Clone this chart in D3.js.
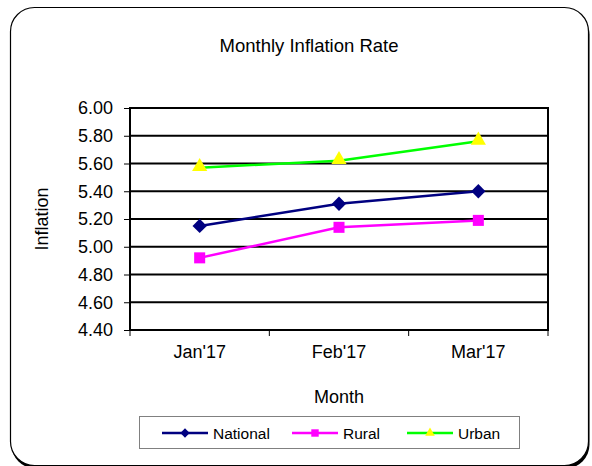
<!DOCTYPE html>
<html>
<head>
<meta charset="utf-8">
<script src="https://cdn.jsdelivr.net/npm/d3@7"></script>
<style>
  body { margin: 0; background: #fff; }
  svg { display: block; font-family: "Liberation Sans", Arial, sans-serif; }
</style>
</head>
<body>
<div id="chart"></div>
<script>
// data
var months = ["Jan'17", "Feb'17", "Mar'17"];
var national = [5.15, 5.31, 5.40];
var rural = [4.92, 5.14, 5.19];
var urban = [5.57, 5.62, 5.76];
var yTicks = [4.40, 4.60, 4.80, 5.00, 5.20, 5.40, 5.60, 5.80, 6.00];
var seriesNames = ["National", "Rural", "Urban"];

var W = 592, H = 466;
var plot = { left: 130, right: 548, top: 108, bottom: 330 };

var svg = d3.select("#chart").append("svg")
    .attr("width", W)
    .attr("height", H);

// chart area frame with shadow (mostly cut off by the page edge)
svg.append("rect")
    .attr("x", 11.5).attr("y", 10.5)
    .attr("width", 578).attr("height", 458)
    .attr("rx", 24).attr("ry", 24)
    .style("fill", "#000");
svg.append("rect")
    .attr("x", 10.5).attr("y", 7.5)
    .attr("width", 578).attr("height", 458)
    .attr("rx", 24).attr("ry", 24)
    .style("fill", "#fff")
    .style("stroke", "#000")
    .style("stroke-width", 1.2);

// scales
var x = d3.scaleBand().domain(months).range([plot.left, plot.right]).padding(0);
var y = d3.scaleLinear().domain([4.4, 6.0]).range([plot.bottom, plot.top]);
var cx = function (m) { return x(m) + x.bandwidth() / 2; };

// title
svg.append("text")
    .attr("x", 309).attr("y", 52)
    .attr("text-anchor", "middle")
    .style("font-size", "18.5px")
    .text("Monthly Inflation Rate");

// gridlines
svg.append("g").selectAll("line")
    .data(yTicks)
    .enter().append("line")
    .attr("x1", plot.left).attr("x2", plot.right)
    .attr("y1", function (d) { return y(d); })
    .attr("y2", function (d) { return y(d); })
    .style("stroke", "#000")
    .style("stroke-width", 2);

// plot border
svg.append("rect")
    .attr("x", plot.left).attr("y", plot.top)
    .attr("width", plot.right - plot.left)
    .attr("height", plot.bottom - plot.top)
    .style("fill", "none")
    .style("stroke", "#000")
    .style("stroke-width", 2);

// y axis
var yAxis = d3.axisLeft(y)
    .tickValues(yTicks)
    .tickFormat(d3.format(".2f"))
    .tickSize(6)
    .tickPadding(11);
var gy = svg.append("g")
    .attr("transform", "translate(" + plot.left + ",0)")
    .call(yAxis);
gy.select(".domain").remove();
gy.selectAll("line").style("stroke", "#000").style("stroke-width", 1);
gy.selectAll("text")
    .style("font-size", "18px")
    .style("font-family", "'Liberation Sans', Arial, sans-serif")
    .style("fill", "#000");

// x axis: ticks at band boundaries, labels at centers
var bounds = months.map(function (m) { return x(m); }).concat([plot.right]);
svg.append("g").selectAll("line")
    .data(bounds)
    .enter().append("line")
    .attr("x1", function (d) { return d; }).attr("x2", function (d) { return d; })
    .attr("y1", plot.bottom).attr("y2", plot.bottom + 6)
    .style("stroke", "#000").style("stroke-width", 1);
svg.append("g").selectAll("text")
    .data(months)
    .enter().append("text")
    .attr("x", function (d) { return cx(d); })
    .attr("y", 358)
    .attr("text-anchor", "middle")
    .style("font-size", "18px")
    .text(function (d) { return d; });

// axis titles
svg.append("text")
    .attr("x", cx(months[1])).attr("y", 403)
    .attr("text-anchor", "middle")
    .style("font-size", "18px")
    .text("Month");
svg.append("text")
    .attr("transform", "translate(48," + ((plot.top + plot.bottom) / 2) + ") rotate(-90)")
    .attr("text-anchor", "middle")
    .style("font-size", "18px")
    .text("Inflation");

// series
var series = [
    { name: seriesNames[0], values: national, line: "#000080", fill: "#000080", shape: d3.symbolDiamond2, size: 130, lsize: 55 },
    { name: seriesNames[1], values: rural, line: "#FF00FF", fill: "#FF00FF", shape: d3.symbolSquare2, size: 155, lsize: 70 },
    { name: seriesNames[2], values: urban, line: "#00FF00", fill: "#FFFF00", shape: d3.symbolTriangle2, size: 165, lsize: 65 }
];

var line = d3.line()
    .x(function (d, i) { return cx(months[i]); })
    .y(function (d) { return y(d); });

series.forEach(function (s) {
    svg.append("path")
        .datum(s.values)
        .attr("d", line)
        .style("fill", "none")
        .style("stroke", s.line)
        .style("stroke-width", 2.5);
});

series.forEach(function (s) {
    svg.append("g").selectAll("path")
        .data(s.values)
        .enter().append("path")
        .attr("d", d3.symbol().type(s.shape).size(s.size))
        .attr("transform", function (d, i) {
            var dy = s.shape === d3.symbolTriangle2 ? -1 : 0;
            return "translate(" + cx(months[i]) + "," + (y(d) + dy) + ")";
        })
        .style("fill", s.fill)
        .style("stroke", "none");
});

// legend
var legend = svg.append("g");
legend.append("rect")
    .attr("x", 139.5).attr("y", 416.5)
    .attr("width", 380).attr("height", 32)
    .style("fill", "#fff")
    .style("stroke", "#808080")
    .style("stroke-width", 1);

var legendX = [162, 292, 407];
var ly = 433;
series.forEach(function (s, i) {
    var g = legend.append("g");
    g.append("line")
        .attr("x1", legendX[i]).attr("x2", legendX[i] + 46)
        .attr("y1", ly).attr("y2", ly)
        .style("stroke", s.line)
        .style("stroke-width", 2.5);
    g.append("path")
        .attr("d", d3.symbol().type(s.shape).size(s.lsize))
        .attr("transform", "translate(" + (legendX[i] + 23) + "," + ly + ")")
        .style("fill", s.fill);
    g.append("text")
        .attr("x", legendX[i] + 51)
        .attr("y", ly + 5.5)
        .style("font-size", "15.5px")
        .text(s.name);
});
</script>
</body>
</html>
